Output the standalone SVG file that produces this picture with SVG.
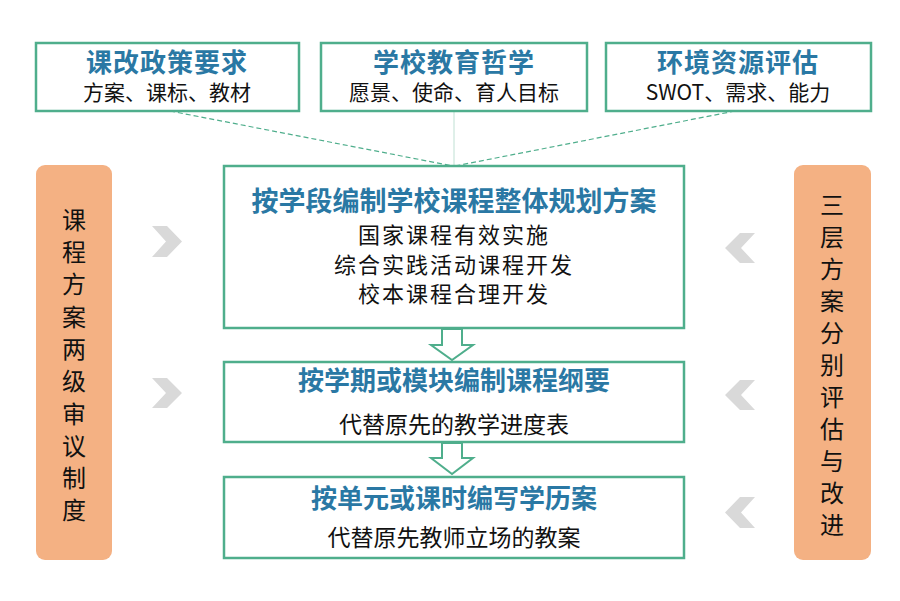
<svg xmlns="http://www.w3.org/2000/svg" width="900" height="601" viewBox="0 0 900 601">
<style>
.box{fill:#fff;stroke:#4FAE8C;stroke-width:2.5}
.side{fill:#F4B183}
.t{font-family:"Noto Sans CJK SC","Microsoft YaHei",sans-serif;font-weight:bold;fill:#2A78A4;text-anchor:middle}
.s{font-family:"Noto Sans CJK SC",sans-serif;fill:#111;text-anchor:middle}
.v{font-family:"Noto Sans CJK SC",sans-serif;fill:#111;text-anchor:middle;font-size:24px}
.chev{fill:#D9D9D9}
.dash{stroke:#4FAE8C;stroke-width:1.2;stroke-dasharray:5 3;fill:none}
.harrow{fill:#fff;stroke:#4FAE8C;stroke-width:2}
</style>
<rect width="900" height="601" fill="#fff"/>
<g id="connectors">
<line class="dash" x1="170" y1="111" x2="453" y2="166"/>
<line class="dash" x1="735" y1="111" x2="455" y2="166"/>
<line x1="454" y1="111" x2="454" y2="166" stroke="#BFE0D3" stroke-width="1"/>
<polygon class="harrow" points="442,329 462,329 462,345 473,345 452,360 431,345 442,345"/>
<polygon class="harrow" points="442,443 462,443 462,458 473,458 452,474 431,458 442,458"/>
</g>
<g id="policy">
<rect class="box" x="36" y="43" width="263" height="68"/>
<text class="t" x="167" y="72" font-size="26" letter-spacing="1">课改政策要求</text>
<text class="s" x="167" y="100" font-size="21">方案、课标、教材</text>
</g>
<g id="philosophy">
<rect class="box" x="321" y="43" width="266" height="68"/>
<text class="t" x="454" y="72" font-size="26" letter-spacing="1">学校教育哲学</text>
<text class="s" x="454" y="100" font-size="21">愿景、使命、育人目标</text>
</g>
<g id="environment">
<rect class="box" x="606" y="43" width="265" height="68"/>
<text class="t" x="738" y="72" font-size="26" letter-spacing="1">环境资源评估</text>
<text class="s" x="738" y="100" font-size="21">SWOT、需求、能力</text>
</g>
<g id="plan">
<rect class="box" x="224" y="166" width="460" height="162"/>
<text class="t" x="454" y="211" font-size="27">按学段编制学校课程整体规划方案</text>
<text class="s" x="454" y="243" font-size="22" letter-spacing="2">国家课程有效实施</text>
<text class="s" x="454" y="273" font-size="22" letter-spacing="2">综合实践活动课程开发</text>
<text class="s" x="454" y="302" font-size="22" letter-spacing="2">校本课程合理开发</text>
</g>
<g id="outline">
<rect class="box" x="224" y="362" width="460" height="80"/>
<text class="t" x="454" y="390" font-size="26">按学期或模块编制课程纲要</text>
<text class="s" x="454" y="433" font-size="23">代替原先的教学进度表</text>
</g>
<g id="lesson">
<rect class="box" x="224" y="477" width="460" height="81"/>
<text class="t" x="454" y="508" font-size="26">按单元或课时编写学历案</text>
<text class="s" x="454" y="546" font-size="23">代替原先教师立场的教案</text>
</g>
<g id="review">
<rect class="side" x="36" y="165" width="76" height="395" rx="9"/>
<text class="v" x="74"><tspan x="74" y="229">课</tspan><tspan x="74" y="261">程</tspan><tspan x="74" y="293">方</tspan><tspan x="74" y="326">案</tspan><tspan x="74" y="358">两</tspan><tspan x="74" y="390">级</tspan><tspan x="74" y="423">审</tspan><tspan x="74" y="455">议</tspan><tspan x="74" y="487">制</tspan><tspan x="74" y="519">度</tspan></text>
</g>
<g id="evaluate">
<rect class="side" x="794" y="165" width="77" height="395" rx="9"/>
<text class="v" x="832"><tspan x="832" y="214">三</tspan><tspan x="832" y="246">层</tspan><tspan x="832" y="278">方</tspan><tspan x="832" y="310">案</tspan><tspan x="832" y="342">分</tspan><tspan x="832" y="374">别</tspan><tspan x="832" y="406">评</tspan><tspan x="832" y="438">估</tspan><tspan x="832" y="470">与</tspan><tspan x="832" y="502">改</tspan><tspan x="832" y="534">进</tspan></text>
</g>
<g id="chevrons">
<polygon class="chev" points="152,226 167,226 182,241.5 167,257 152,257 166,241.5"/>
<polygon class="chev" points="152,378 167,378 182,393 167,408 152,408 166,393"/>
<polygon class="chev" points="755,233 740,233 725,248 740,263 755,263 741,248"/>
<polygon class="chev" points="755,380 740,380 725,395 740,410 755,410 741,395"/>
<polygon class="chev" points="755,497 740,497 725,512.5 740,528 755,528 741,512.5"/>
</g>
</svg>
